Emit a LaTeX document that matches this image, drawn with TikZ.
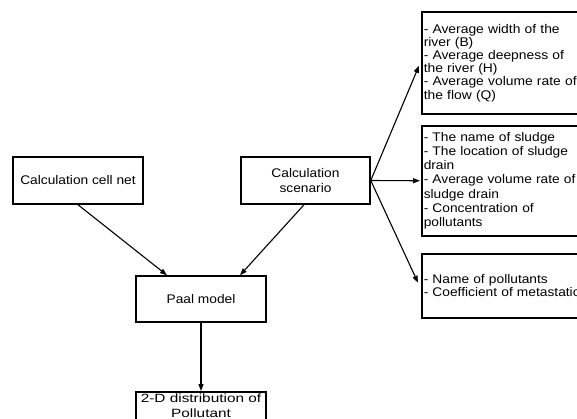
\documentclass[tikz,border=0pt]{standalone}
\usepackage{fontspec}
\setmainfont{Liberation Sans}[FakeStretch=1.1]
\newfontfamily\wideff{Liberation Sans}[FakeStretch=1.28]
\usetikzlibrary{arrows.meta,calc}
\begin{document}
\begin{tikzpicture}[x=1pt,y=-1pt,
  box/.style={draw,line width=1.5pt,inner sep=0pt,font=\fontsize{12.5}{14.5}\selectfont,align=center},
  listbox/.style={draw,line width=1.5pt,anchor=north west,inner ysep=0pt,inner xsep=2pt,text width=175pt,align=left},
  arr/.style={line width=1.1pt,-{Triangle[length=7pt,width=5pt]}}]
\clip (0,0) rectangle (577,418);
\fill[white] (0,0) rectangle (577,418);
\node[box,minimum width=130pt,minimum height=47pt] (cell) at (78,180.5) {Calculation cell net};
\node[box,minimum width=129pt,minimum height=47pt] (scen) at (305.5,180.5) {Calculation\\scenario};
\node[box,minimum width=130pt,minimum height=46pt] (paal) at (201,299) {Paal model};
\node[box,minimum width=130pt,minimum height=46pt,anchor=north,font=\wideff\fontsize{12}{15}\selectfont] (dist) at (201,391) {\rule{0pt}{9pt}2-D distribution of\\Pollutant\\\strut};
\node[listbox,minimum height=102pt,font=\fontsize{12.6}{13.2}\selectfont] (b1) at (421,11) {- Average width of the\\river (B)\\- Average deepness of\\the river (H)\\- Average volume rate of\\the flow (Q)};
\node[listbox,minimum height=110pt,font=\fontsize{12.5}{14.2}\selectfont] (b2) at (421,125) {- The name of sludge\\- The location of sludge\\drain\\- Average volume rate of\\sludge drain\\- Concentration of\\pollutants};
\node[listbox,minimum height=64pt,font=\fontsize{12.5}{13.5}\selectfont] (b3) at (421,253) {- Name of pollutants\\- Coefficient of metastatic\\[-4pt]};
\draw[arr] (cell.south) -- ($(paal.north)+(-34,0)$);
\draw[arr] ($(scen.south)+(-1.5,0)$) -- ($(paal.north)+(39,0)$);
\draw[arr] (paal.south) -- (dist.north);
\draw[arr] (scen.east) -- ($(b1.west)+(-2,3)$);
\draw[arr] (scen.east) -- ($(b2.west)+(-1,0)$);
\draw[arr] (scen.east) -- ($(b3.west)+(-3,-3)$);
\end{tikzpicture}
\end{document}
